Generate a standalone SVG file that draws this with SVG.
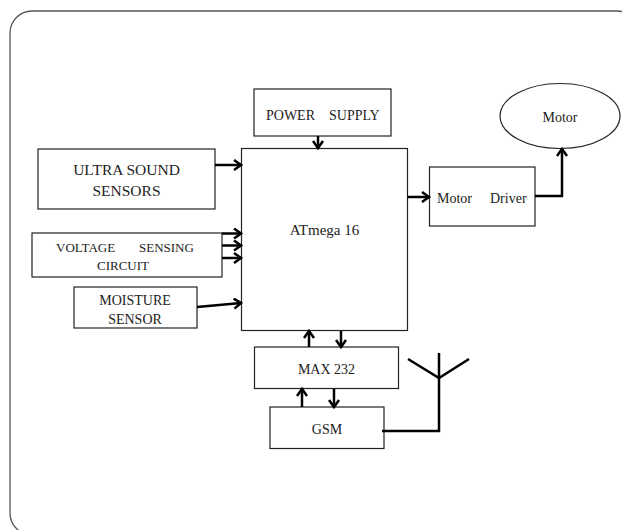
<svg xmlns="http://www.w3.org/2000/svg" width="622" height="530" viewBox="0 0 622 530">
<style>
.box{fill:#fff;stroke:#222;stroke-width:1.2}
.t{font-family:"Liberation Serif","Times New Roman",serif;fill:#222;font-size:14px}
.c{text-anchor:middle}
.ln{fill:none;stroke:#000;stroke-width:2.5}
.ar{fill:none;stroke:#000;stroke-width:2.5;marker-end:url(#ah)}
</style>
<defs>
<marker id="ah" markerUnits="userSpaceOnUse" markerWidth="12" markerHeight="12" refX="9" refY="6" orient="auto" viewBox="0 0 12 12">
<path d="M2,1 L9,6 L2,11" fill="none" stroke="#000" stroke-width="2.5"/>
</marker>
</defs>
<rect x="0" y="0" width="622" height="530" fill="#fff"/>
<rect x="10" y="11" width="629" height="524" rx="22" ry="22" fill="none" stroke="#555" stroke-width="1.3"/>

<g id="power-supply">
<rect class="box" x="254" y="89" width="137" height="47"/>
<text class="t" x="266" y="120">POWER</text>
<text class="t" x="329" y="120">SUPPLY</text>
</g>
<g id="atmega">
<rect class="box" x="241.5" y="148.5" width="166" height="182" stroke="#555"/>
<text class="t c" x="324.5" y="235" style="font-size:15px">ATmega 16</text>
</g>
<g id="ultrasound">
<rect class="box" x="38" y="149" width="177" height="60"/>
<text class="t c" x="126.5" y="175" style="font-size:15.5px">ULTRA SOUND</text>
<text class="t c" x="126.5" y="196" style="font-size:15.5px">SENSORS</text>
</g>
<g id="voltage">
<rect class="box" x="32" y="233" width="190" height="44"/>
<text class="t" x="56" y="251.5" style="font-size:13px">VOLTAGE</text>
<text class="t" x="139" y="251.5" style="font-size:13px">SENSING</text>
<text class="t c" x="123" y="269.5" style="font-size:13px">CIRCUIT</text>
</g>
<g id="moisture">
<rect class="box" x="74" y="287" width="123" height="41"/>
<text class="t c" x="135" y="305">MOISTURE</text>
<text class="t c" x="135" y="323.5">SENSOR</text>
</g>
<g id="motor-driver">
<rect class="box" x="429.5" y="167" width="105.5" height="59" stroke="#555"/>
<text class="t" x="437" y="203">Motor</text>
<text class="t" x="490" y="203">Driver</text>
</g>
<g id="motor">
<ellipse cx="560" cy="116" rx="60" ry="32.5" fill="#fff" stroke="#222" stroke-width="1.2"/>
<text class="t c" x="560" y="121.5">Motor</text>
</g>
<g id="max232">
<rect class="box" x="254.5" y="347" width="144" height="41.5"/>
<text class="t c" x="326.5" y="374">MAX 232</text>
</g>
<g id="gsm">
<rect class="box" x="270" y="407" width="114" height="41.5"/>
<text class="t c" x="327" y="434">GSM</text>
</g>
<g id="antenna">
<polyline class="ln" points="408,359 439,378 469,359"/>
<line class="ln" x1="439" y1="353" x2="439" y2="378"/>
</g>

<g id="connectors">
<line class="ar" x1="215" y1="165" x2="241" y2="165"/>
<line class="ar" x1="222" y1="233.5" x2="241" y2="233.5"/>
<line class="ar" x1="222" y1="245.5" x2="241" y2="245.5"/>
<line class="ar" x1="222" y1="258" x2="241" y2="258"/>
<line class="ar" x1="197" y1="307" x2="241" y2="303"/>
<line class="ar" x1="318" y1="136" x2="318" y2="148"/>
<line class="ar" x1="407.5" y1="197" x2="429" y2="197"/>
<polyline class="ar" points="535,196 562,196 562,149"/>
<line class="ar" x1="309" y1="347" x2="309" y2="331"/>
<line class="ar" x1="341" y1="331" x2="341" y2="347"/>
<line class="ar" x1="302" y1="407" x2="302" y2="389"/>
<line class="ar" x1="334" y1="389" x2="334" y2="407"/>
<polyline class="ln" points="382,431 439,431 439,377"/>
</g>
</svg>
